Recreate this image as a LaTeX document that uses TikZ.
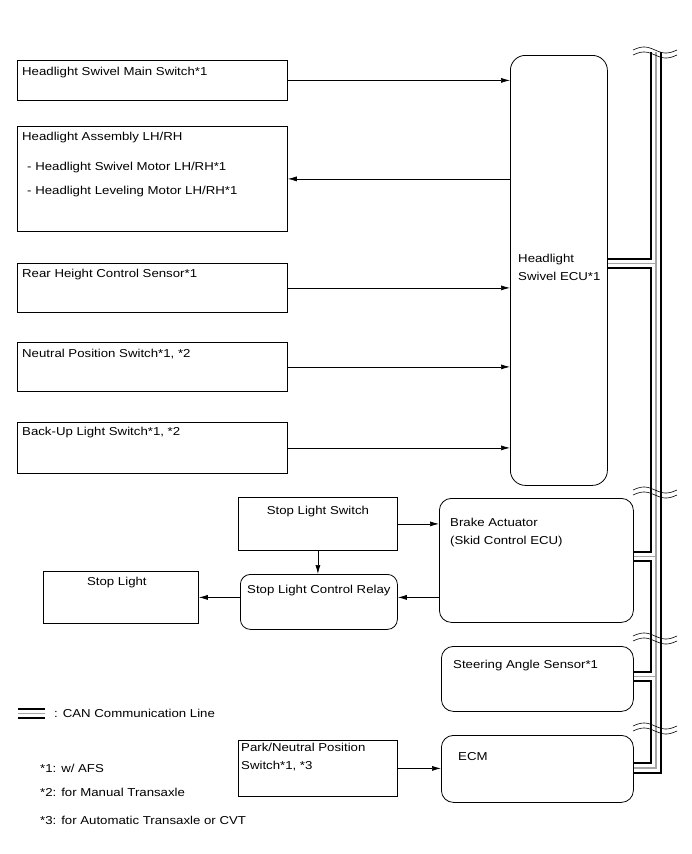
\documentclass[tikz,border=0pt]{standalone}
\usepackage{fontspec}
\setmainfont{Liberation Sans}[FakeStretch=1.15]
\usetikzlibrary{arrows.meta}

\tikzset{
	blk/.style={draw, line width=0.8pt, anchor=north west, inner sep=0pt},
	rblk/.style={blk, rounded corners=12pt},
	txt/.style={anchor=west, inner sep=0pt, align=left, font=\fontsize{11.5}{18}\selectfont},
	arr/.style={line width=0.7pt, -{Latex[length=9pt,width=5pt]}},
	canblack/.style={line width=2pt},
	cangrey/.style={line width=1.5pt, gray!70},
}

\begin{document}
\begin{tikzpicture}[x=1pt,y=-1pt]
		\useasboundingbox (0,0) rectangle (691,854);

		\foreach \n/\y/\h in {hsw/60/40, hla/126/105, rhs/263/49, nps/342/49, bls/422/51}
			\node[blk, minimum width=270pt, minimum height=\h pt] (\n) at (17,\y) {};
		\node[rblk, rounded corners=15pt, minimum width=97pt, minimum height=430pt] (ecu) at (510,55) {};

		\node[blk, minimum width=159pt, minimum height=53pt] (sls) at (238,497) {};
		\node[rblk, rounded corners=10pt, minimum width=157pt, minimum height=55pt] (relay) at (240,574) {};
		\node[blk, minimum width=155pt, minimum height=52pt] (stop) at (43,571) {};
		\node[rblk, minimum width=194pt, minimum height=124pt] (brake) at (439,498) {};
		\node[rblk, minimum width=192pt, minimum height=65pt] (steer) at (441,646) {};
		\node[rblk, minimum width=192pt, minimum height=67pt] (ecm) at (441,735) {};
		\node[blk, minimum width=159pt, minimum height=56pt] (pnp) at (238,740) {};

		\node[txt] (hswt) at ([xshift=5pt,yshift=-13pt]hsw.north west) {Headlight Swivel Main Switch*1};
		\node[txt] (hlat) at ([xshift=5pt,yshift=-12pt]hla.north west) {Headlight Assembly LH/RH};
		\node[txt] (hlam) at ([xshift=10pt,yshift=-42pt]hla.north west) {- Headlight Swivel Motor LH/RH*1};
		\node[txt] (hlal) at ([xshift=10pt,yshift=-66pt]hla.north west) {- Headlight Leveling Motor LH/RH*1};
		\node[txt] (rhst) at ([xshift=5pt,yshift=-12pt]rhs.north west) {Rear Height Control Sensor*1};
		\node[txt] (npst) at ([xshift=5pt,yshift=-12pt]nps.north west) {Neutral Position Switch*1, *2};
		\node[txt] (blst) at ([xshift=5pt,yshift=-11pt]bls.north west) {Back-Up Light Switch*1, *2};
		\node[txt] (ecut) at (518,267) {Headlight\\Swivel ECU*1};

		\node[txt, anchor=center] (slst) at ([yshift=-15pt]sls.north) {Stop Light Switch};
		\node[txt, anchor=center] (relayt) at ([yshift=-17pt]relay.north) {Stop Light Control Relay};
		\node[txt, anchor=center] (stopt) at ([xshift=-4pt,yshift=-12pt]stop.north) {Stop Light};
		\node[txt] (braket) at (450,533) {Brake Actuator\\(Skid Control ECU)};
		\node[txt] (steert) at (453,666) {Steering Angle Sensor*1};
		\node[txt] (ecmt) at (458,757) {ECM};
		\node[txt] (pnpt) at (241,757) {Park/Neutral Position\\Switch*1, *3};

		\foreach \n in {hsw, rhs, nps, bls}
			\draw[arr] (\n.east) -- (\n.east -| ecu.west);
		\draw[arr] (hla.east -| ecu.west) -- (hla.east);
		\draw[arr] (sls.east) -- (sls.east -| brake.west);
		\draw[arr] (sls.south) -- (sls.south |- relay.north);
		\draw[arr] (brake.west |- stop.east) -- (relay.east |- stop.east);
		\draw[arr] (relay.west |- stop.east) -- (stop.east);
		\draw[arr] (pnp.east) -- (pnp.east -| ecm.west);

		\draw[canblack] (651,52) |- (ecu.east |- 0,259);
		\draw[canblack] (ecu.east |- 0,268) -| (651,552) -- (brake.east |- 0,552);
		\draw[canblack] (brake.east |- 0,561) -| (651,672) -- (steer.east |- 0,672);
		\draw[canblack] (steer.east |- 0,681) -| (651,763) -- (ecm.east |- 0,763);
		\draw[cangrey] (656,52) |- (ecm.east |- 0,768);
		\foreach \n/\y in {ecu/263.5, brake/556.5, steer/676.5}
			\draw[cangrey] (\n.east |- 0,\y) -- (656,\y);
		\draw[canblack] (661,52) |- (ecm.east |- 0,773);

		\foreach \y in {50, 490, 636, 726}{
			\draw[line width=0.6pt] plot[domain=0:44, samples=30] ({633+\x}, {\y-3*sin(\x*360/44)});
			\draw[line width=0.6pt] plot[domain=0:44, samples=30] ({633+\x}, {\y+5-3*sin(\x*360/44)});
		}

		\draw[canblack] (18,709) -- (45,709);
		\draw[cangrey] (18,713.5) -- (45,713.5);
		\draw[canblack] (18,718) -- (45,718);
		\node[txt] (canleg) at (54,713) {: CAN Communication Line};
		\foreach \i/\y/\t in {1/768/{*1: w/ AFS}, 2/792/{*2: for Manual Transaxle}, 3/820/{*3: for Automatic Transaxle or CVT}}
			\node[txt] (fn\i) at (40,\y) {\t};
\end{tikzpicture}
\end{document}
